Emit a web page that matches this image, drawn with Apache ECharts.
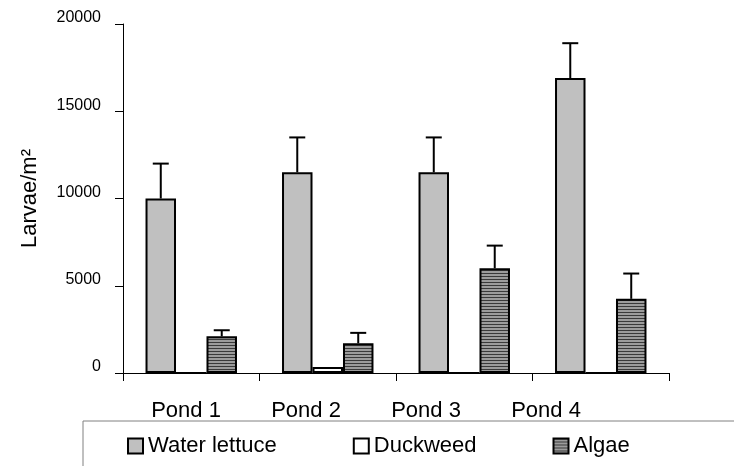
<!DOCTYPE html>
<html>
<head>
<meta charset="utf-8">
<script src="https://cdn.jsdelivr.net/npm/echarts@6/dist/echarts.min.js"></script>
<style>
  html, body { margin: 0; padding: 0; background: #fff; }
  #chart { width: 734px; height: 466px; }
</style>
</head>
<body>
<div id="chart"></div>
<script>
// Larval density per habitat type in four ponds (mean + upper error)
const categories = ['Pond 1', 'Pond 2', 'Pond 3', 'Pond 4'];
const waterLettuce = [10000, 11500, 11500, 16900];
const waterLettuceErr = [2000, 2000, 2000, 2000];
const duckweed = [0, 350, 0, 0];
const algae = [2100, 1700, 6000, 4250];
const algaeErr = [350, 600, 1300, 1450];
const seriesNames = ['Water lettuce', 'Duckweed', 'Algae'];

const FONT = "'Liberation Sans', Arial, sans-serif";
const BAR_CAT_GAP = 0.33;

// Horizontal stripe fill for the algae bars
function stripePattern() {
  const c = document.createElement('canvas');
  c.width = 4; c.height = 3;
  const ctx = c.getContext('2d');
  ctx.fillStyle = '#9c9c9c';
  ctx.fillRect(0, 0, 4, 3);
  ctx.fillStyle = '#3a3a3a';
  ctx.fillRect(0, 0, 4, 1);
  return { image: c, repeat: 'repeat' };
}

// Upper error whisker with a cap, placed over the bar at slot `slot` (0..2)
function errorRenderer(slot) {
  return function (params, api) {
    const idx = api.value(0);
    const val = api.value(1);
    const err = api.value(2);
    const catW = api.size([1, 0])[0];
    const barW = catW * (1 - BAR_CAT_GAP) / 3;
    const base = api.coord([idx, val]);
    const top = api.coord([idx, val + err]);
    const x = base[0] + (slot - 1) * barW;
    const style = { stroke: '#000', lineWidth: 2 };
    return {
      type: 'group',
      children: [
        { type: 'line', shape: { x1: x, y1: base[1], x2: x, y2: top[1] }, style },
        { type: 'line', shape: { x1: x - 8, y1: top[1], x2: x + 8, y2: top[1] }, style }
      ]
    };
  };
}

function errData(vals, errs) {
  return vals.map((v, i) => [i, v, errs[i]]);
}

const chart = echarts.init(document.getElementById('chart'), null, { renderer: 'canvas' });

const barBorder = { borderColor: '#000', borderWidth: 2 };

chart.setOption({
  animation: false,
  backgroundColor: '#fff',
  textStyle: { fontFamily: FONT, color: '#000' },
  grid: [
    { left: 123, right: 65, top: 24, bottom: 93 },
    { left: 126, right: 128, top: 24, bottom: 93 }
  ],
  legend: {
    data: seriesNames,
    left: 83,
    top: 421,
    width: 600,
    padding: [14, 130, 40, 44],
    itemGap: 76,
    itemWidth: 15,
    itemHeight: 15,
    icon: 'rect',
    borderColor: '#808080',
    borderWidth: 1,
    textStyle: { fontFamily: FONT, fontSize: 22, color: '#000' }
  },
  xAxis: [
    {
      type: 'category',
      gridIndex: 0,
      data: categories,
      axisLine: { lineStyle: { color: '#000', width: 1 } },
      axisTick: { show: true, length: 8, lineStyle: { color: '#000' } },
      axisLabel: { show: false }
    },
    {
      type: 'category',
      gridIndex: 1,
      data: categories,
      axisLine: { show: false },
      axisTick: { show: false },
      axisLabel: { fontFamily: FONT, fontSize: 22, color: '#000', margin: 27 }
    }
  ],
  yAxis: [
    {
      type: 'value',
      gridIndex: 0,
      min: 0,
      max: 20000,
      interval: 5000,
      name: 'Larvae/m²',
      nameLocation: 'middle',
      nameGap: 82,
      nameTextStyle: { fontFamily: FONT, fontSize: 22, color: '#000' },
      axisLine: { show: true, lineStyle: { color: '#000', width: 1 } },
      axisTick: { show: true, length: 8, lineStyle: { color: '#000' } },
      splitLine: { show: false },
      axisLabel: {
        fontFamily: FONT, fontSize: 16, color: '#000', margin: 22,
        verticalAlign: 'bottom', lineHeight: 12,
        formatter: (v) => String(v)
      }
    },
    { type: 'value', gridIndex: 1, min: 0, max: 20000, show: false }
  ],
  series: [
    {
      name: 'Water lettuce', type: 'bar', data: waterLettuce,
      barGap: '0%', barCategoryGap: (BAR_CAT_GAP * 100) + '%',
      itemStyle: Object.assign({ color: '#c0c0c0' }, barBorder)
    },
    {
      name: 'Duckweed', type: 'bar', data: duckweed,
      itemStyle: Object.assign({ color: '#ffffff' }, barBorder)
    },
    {
      name: 'Algae', type: 'bar', data: algae,
      itemStyle: Object.assign({ color: stripePattern() }, barBorder)
    },
    {
      name: 'Water lettuce error', type: 'custom',
      renderItem: errorRenderer(0),
      encode: { x: 0, y: 1 },
      data: errData(waterLettuce, waterLettuceErr),
      z: 3
    },
    {
      name: 'Algae error', type: 'custom',
      renderItem: errorRenderer(2),
      encode: { x: 0, y: 1 },
      data: errData(algae, algaeErr),
      z: 3
    }
  ]
});
</script>
</body>
</html>
